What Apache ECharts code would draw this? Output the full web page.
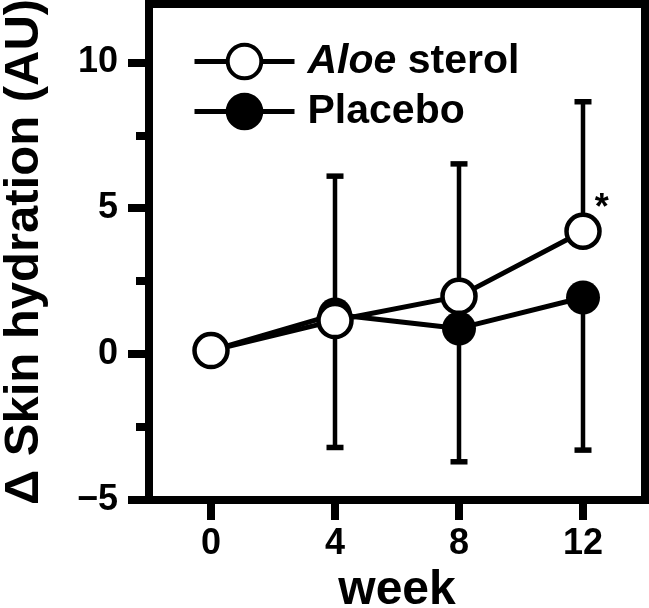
<!DOCTYPE html>
<html>
<head>
<meta charset="utf-8">
<script src="https://cdn.jsdelivr.net/npm/echarts@6/dist/echarts.min.js"></script>
<style>html,body{margin:0;padding:0;background:#fff}#c{width:649px;height:608px}</style>
</head>
<body>
<div id="c"></div>
<script>
// ---- data ----
const weeks = [0, 4, 8, 12];
const aloeMean = [0.12, 1.15, 1.98, 4.21];
const aloeSD = [0, 4.95, 4.54, 4.44];        // upper error bars
const placeboMean = [0.12, 1.36, 0.88, 1.94];
const placeboSD = [0, 4.56, 4.57, 5.23];     // lower error bars
const xTicks = [0, 4, 8, 12];
const yTicks = [-5, 0, 5, 10];
const yMinorTicks = [-2.5, 2.5, 7.5];
const seriesNames = ['Aloe sterol', 'Placebo'];
const sigMark = ['', '', '', '*'];   // significance marks on Aloe sterol

const FONT = 'Arial, "Liberation Sans", Helvetica, sans-serif';

const aloeData = weeks.map((w, i) => {
  const item = { value: [w, aloeMean[i]] };
  if (sigMark[i]) {
    item.label = {
      show: true, formatter: sigMark[i], position: 'right', distance: 0,
      offset: [-7, -22], fontSize: 36, fontWeight: 'bold', color: '#000', fontFamily: FONT
    };
  }
  return item;
});
const placeboData = weeks.map((w, i) => [w, placeboMean[i]]);

const errData = [];
weeks.forEach((w, i) => { if (aloeSD[i] > 0) errData.push([w, aloeMean[i], aloeSD[i], 1]); });
weeks.forEach((w, i) => { if (placeboSD[i] > 0) errData.push([w, placeboMean[i], placeboSD[i], -1]); });

function renderErr(params, api) {
  const x = api.value(0), m = api.value(1), sd = api.value(2), dir = api.value(3);
  const p0 = api.coord([x, m]);
  const p1 = api.coord([x, m + dir * sd]);
  return {
    type: 'group',
    children: [
      { type: 'line', shape: { x1: p0[0], y1: p0[1], x2: p1[0], y2: p1[1] }, style: { stroke: '#000', lineWidth: 4.5 } },
      { type: 'line', shape: { x1: p1[0] - 8.5, y1: p1[1], x2: p1[0] + 8.5, y2: p1[1] }, style: { stroke: '#000', lineWidth: 5.5 } }
    ]
  };
}

const chart = echarts.init(document.getElementById('c'), null, { renderer: 'canvas' });
chart.setOption({
  animation: false,
  backgroundColor: '#fff',
  grid: { left: 149, right: 4, top: 4, bottom: 108, containLabel: false, outerBoundsMode: 'none',
    show: true, borderColor: '#000', borderWidth: 8, backgroundColor: 'transparent' },
  legend: {
    orient: 'vertical', left: 192, top: 41, padding: 0,
    itemWidth: 100, itemHeight: 42, itemGap: 9,
    data: seriesNames,
    lineStyle: { width: 5 },
    itemStyle: { borderWidth: 4 },
    textStyle: { fontSize: 41, fontWeight: 'bold', color: '#000', fontFamily: FONT, padding: [0, 0, 0, 8],
      rich: { i: { fontSize: 41, fontWeight: 'bold', fontStyle: 'italic', color: '#000', fontFamily: FONT } } },
    formatter: function (name) { return name === 'Aloe sterol' ? '{i|Aloe} sterol' : name; }
  },
  xAxis: {
    type: 'value', min: -2, max: 14,
    name: 'week', nameLocation: 'middle', nameGap: 62,
    nameTextStyle: { fontSize: 48, fontWeight: 'bold', color: '#000', fontFamily: FONT },
    axisLine: { show: true, onZero: false, lineStyle: { color: '#000', width: 8 } },
    axisTick: { show: true, length: 20, lineStyle: { color: '#000', width: 8 }, customValues: xTicks },
    axisLabel: { fontSize: 36, fontWeight: 'bold', color: '#000', fontFamily: FONT, margin: 26, customValues: xTicks },
    splitLine: { show: false }
  },
  yAxis: [{
    type: 'value', min: -5, max: 12, interval: 5,
    name: '\u0394 Skin hydration (AU)', nameLocation: 'middle', nameGap: 100,
    nameTextStyle: { fontSize: 49, fontWeight: 'bold', color: '#000', fontFamily: FONT },
    axisLine: { show: true, onZero: false, lineStyle: { color: '#000', width: 8 } },
    axisTick: { show: true, length: 21, lineStyle: { color: '#000', width: 8 }, customValues: yTicks },
    axisLabel: { fontSize: 36, fontWeight: 'bold', color: '#000', fontFamily: FONT, margin: 31, customValues: yTicks,
      formatter: v => (v < 0 ? '\u2212' + Math.abs(v) : String(v)) },
    splitLine: { show: false }
  }, {
    type: 'value', min: -5, max: 12, position: 'left', offset: 0,
    axisLine: { show: false, onZero: false },
    axisTick: { show: true, length: 13, lineStyle: { color: '#000', width: 8 }, customValues: yMinorTicks },
    axisLabel: { show: false },
    splitLine: { show: false }
  }],
  series: [
    {
      type: 'custom', name: 'err', renderItem: renderErr, data: errData, z: 1,
      encode: { x: 0, y: 1 }, silent: true
    },
    {
      type: 'line', name: 'Placebo', data: placeboData, z: 2,
      symbol: 'circle', symbolSize: 34,
      lineStyle: { color: '#000', width: 5 },
      itemStyle: { color: '#000', borderColor: '#000', borderWidth: 0 }
    },
    {
      type: 'line', name: 'Aloe sterol', data: aloeData, z: 3,
      symbol: 'circle', symbolSize: 33,
      lineStyle: { color: '#000', width: 5 },
      itemStyle: { color: '#fff', borderColor: '#000', borderWidth: 4.5 }
    }
  ]
});
</script>
</body>
</html>
